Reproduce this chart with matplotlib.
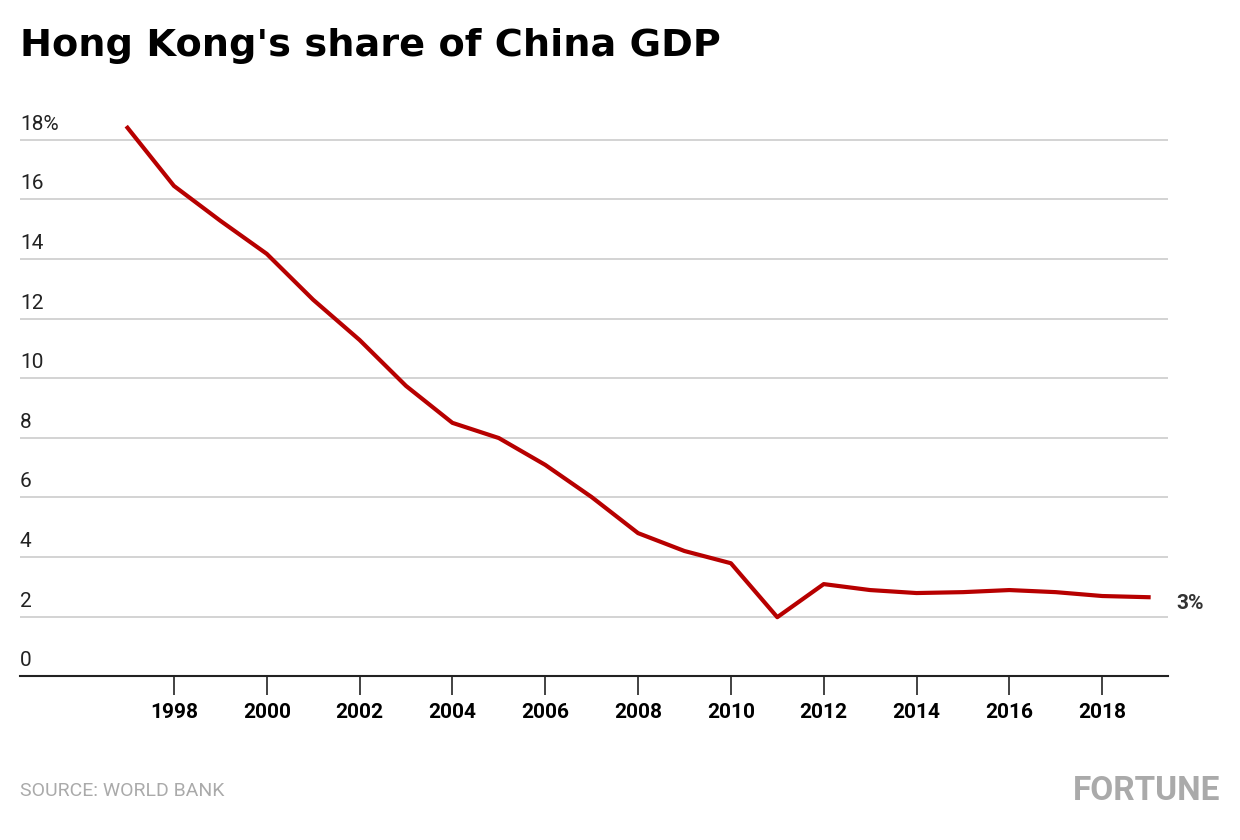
import matplotlib
matplotlib.use("Agg")
import matplotlib.pyplot as plt

years = list(range(1997, 2020))
share = [18.4, 16.45, 15.28, 14.17, 12.63, 11.28, 9.74, 8.50, 7.99, 7.09, 6.01,
         4.80, 4.20, 3.79, 1.98, 3.09, 2.89, 2.79, 2.82, 2.89, 2.82, 2.69, 2.65]
y_ticks = [0, 2, 4, 6, 8, 10, 12, 14, 16, 18]
y_labels = ["0", "2", "4", "6", "8", "10", "12", "14", "16", "18%"]
x_ticks = list(range(1998, 2019, 2))

RED = "#b70000"
plt.rcParams["font.family"] = ["Roboto", "DejaVu Sans"]

fig = plt.figure(figsize=(12.4, 8.4), dpi=100)
ax = fig.add_axes([0.016, 0.195, 0.926, 0.66])
ax.set_xlim(1994.68, 2019.42)
ax.set_ylim(0, 18.6)

for v in y_ticks[1:]:
    ax.axhline(v, color="#cccccc", lw=1.2, zorder=1)
for v, lab in zip(y_ticks, y_labels):
    ax.text(1994.68, v + 0.2, lab, fontsize=15, color="#222222", ha="left", va="bottom")

ax.plot(years, share, color=RED, lw=3, zorder=3)
ax.text(2019.6, share[-1] - 0.2, "3%", fontsize=15, fontweight="bold", color="#333333",
        ha="left", va="center", clip_on=False)

for s in ["top", "right", "left"]:
    ax.spines[s].set_visible(False)
ax.spines["bottom"].set_color("#222222")
ax.spines["bottom"].set_linewidth(1.5)
ax.set_yticks([])
ax.set_xticks(x_ticks)
ax.set_xticklabels([str(x) for x in x_ticks], fontsize=15, fontweight="bold")
ax.tick_params(axis="x", length=14, width=1.2, color="#222222", pad=5)

fig.text(0.016, 0.945, "Hong Kong's share of China GDP", fontsize=27.5, fontweight="bold",
         family="DejaVu Sans", ha="left", va="center")
fig.text(0.016, 0.058, "SOURCE: WORLD BANK", fontsize=14, color="#aaaaaa", ha="left", va="center")
fig.text(0.984, 0.058, "FORTUNE", fontsize=24, fontweight="bold", color="#aaaaaa",
         ha="right", va="center", fontstretch="condensed")

fig.savefig("out.png", dpi=100)
